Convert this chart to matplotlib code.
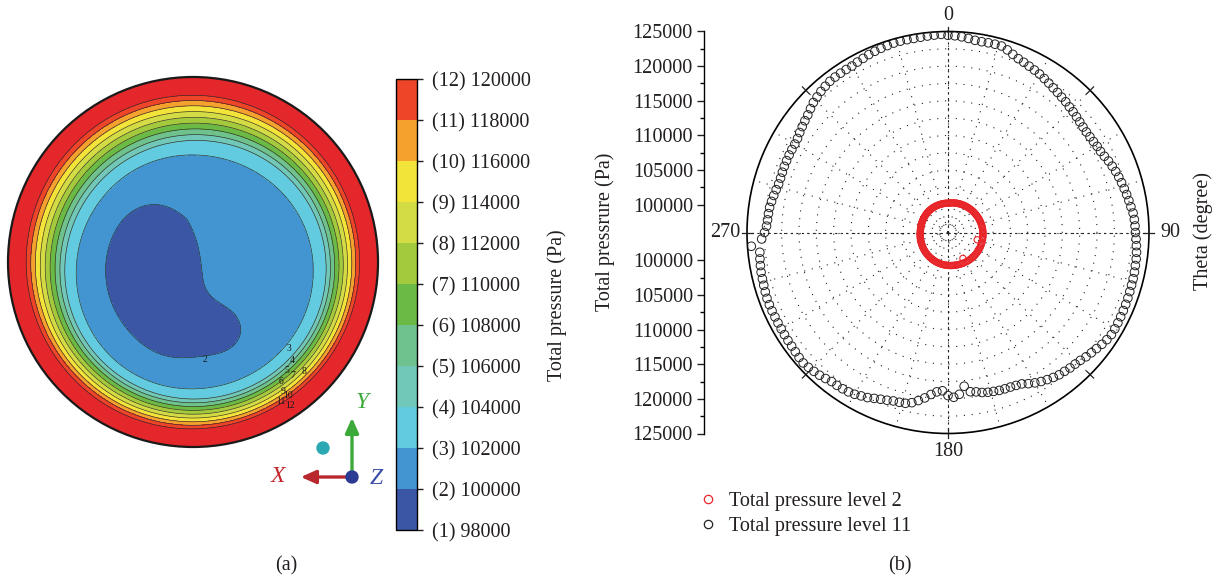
import numpy as np
import matplotlib
matplotlib.use("Agg")
import matplotlib.pyplot as plt
from matplotlib.colors import ListedColormap, BoundaryNorm
from matplotlib.cm import ScalarMappable
from matplotlib.lines import Line2D
import matplotlib.patches as mpatches

plt.rcParams['font.family'] = ['Liberation Serif', 'DejaVu Serif']
TXT = '#231F20'

# ---------------- contour map data (a) ----------------
levels = [98000, 100000, 102000, 104000, 106000, 108000, 110000,
          112000, 114000, 116000, 118000, 120000]
level_ids = list(range(1, 13))
band_colors = ['#3C56A6', '#4295D1', '#62CBDF', '#71C8B8', '#6FC28E', '#6CBA46',
               '#A3CA3C', '#D3DC44', '#F3E43A', '#F4A12E', '#EE4427']
rim_color = '#E4272A'

# radial pressure profile across the section (radius / R, Pa)
prof_r = [0.00, 0.30, 0.50, 0.630, 0.705, 0.730, 0.755, 0.780, 0.805,
          0.830, 0.855, 0.878, 0.900, 1.00, 1.05]
prof_p = [101000, 101050, 101350, 102000, 104000, 106000, 108000, 110000,
          112000, 114000, 116000, 118000, 120000, 124000, 125000]
core_shift = (0.025, -0.062)

# low-pressure cores
core_x = [-0.25, 0.16, -0.03]
core_y = [-0.04, -0.38, -0.38]
core_sx = [0.25, 0.10, 0.14]
core_sy = [0.37, 0.09, 0.12]
core_depth = [2000, 1400, 1200]

# contour index labels (pixel positions)
clabel_text = ['2', '3', '4', '5', '7', '8', '6', '9', '10', '11', '12']
clabel_px = [205, 289, 292, 287, 293, 304, 281, 283, 288, 281, 290]
clabel_py = [360, 349, 361, 371, 376, 372, 382, 391, 395, 402, 405]

# ---------------- polar data (b) ----------------
theta_deg = np.arange(0, 360, 2)
p_level11 = [
    124450, 124400, 124300, 124150, 124000, 123950, 123980, 124000, 123990, 123700,
    123350, 123050, 122880, 122700, 122550, 122400, 122200, 122000, 121800, 121650,
    121500, 121380, 121200, 121080, 120950, 120820, 120720, 120680, 120700, 120750,
    120850, 120920, 121100, 121350, 121550, 121750, 121900, 122050, 122200, 122350,
    122500, 122650, 122850, 122950, 123000, 123040, 123150, 123250, 123350, 123420,
    123450, 123500, 123530, 123550, 123580, 123620, 123660, 123690, 123720, 123760,
    123800, 123800, 123650, 123450, 123200, 123000, 122800, 122550, 122400, 122300,
    122150, 122050, 121850, 121600, 121350, 121050, 120700, 120300, 120150, 120050,
    120000, 119950, 119850, 119760, 119600, 119350, 119200, 118300, 119400, 119790,
    119530, 118850, 119050, 119500, 120100, 120620, 121100, 121400, 121480, 121550,
    121750, 121950, 122200, 122500, 122700, 122950, 123110, 123200, 123260, 123290,
    123500, 123700, 123850, 124000, 124120, 124050, 123950, 123880, 123850, 123820,
    123800, 123780, 123780, 123790, 123800, 123790, 123720, 123650, 123600, 123570,
    123480, 123400, 123300, 124450, 122900, 122470, 122200, 122100, 122050, 121990,
    121850, 121700, 121550, 121420, 121400, 121430, 121470, 121490, 121500, 121510,
    121520, 121600, 121800, 122000, 122200, 122400, 122700, 123000, 123200, 123400,
    123550, 123680, 123720, 123730, 123730, 123730, 123850, 123950, 124100, 124200,
    124280, 124350, 124430, 124450, 124440, 124430, 124450, 124500, 124550, 124600]
p_level2 = [
    100230, 100250, 100270, 100300, 100310, 100330, 100350, 100390, 100400, 100420,
    100430, 100460, 100470, 100500, 100510, 100530, 100560, 100570, 100590, 100610,
    100620, 100650, 100660, 100680, 100700, 100720, 100740, 100760, 100780, 100790,
    100810, 100830, 100860, 100870, 100890, 100900, 100920, 100940, 100950, 100970,
    100980, 100990, 101010, 101020, 101030, 101040, 101050, 101060, 101060, 101070,
    101070, 101080, 100340, 101090, 101090, 101090, 101100, 101100, 101100, 101090,
    101090, 101090, 101080, 101080, 101070, 101070, 101060, 101050, 101040, 101030,
    101030, 101010, 101000, 100990, 100980, 100300, 100950, 100940, 100920, 100900,
    100890, 100870, 100860, 100840, 100830, 100810, 100800, 100790, 100780, 100760,
    100750, 100740, 100720, 100710, 100690, 100680, 100660, 100640, 100620, 100610,
    100590, 100570, 100550, 100530, 100510, 100490, 100470, 100450, 100430, 100410,
    100390, 100370, 100350, 100330, 100310, 100300, 100280, 100260, 100240, 100220,
    100210, 100190, 100170, 100150, 100140, 100130, 100110, 100090, 100080, 100070,
    100060, 100050, 100040, 100020, 100010, 100000, 100000, 99990, 100000, 99990,
    99990, 100000, 100010, 100010, 100020, 100020, 100030, 100040, 100040, 100050,
    100060, 100070, 100080, 100090, 100100, 100110, 100120, 100130, 100140, 100150,
    100150, 100160, 100170, 100170, 100180, 100180, 100190, 100190, 100200, 100200,
    100200, 100210, 100210, 100210, 100220, 100220, 100220, 100230, 100230, 100230]
r_min, r_max = 96000, 125000
left_ticks = [100000, 105000, 110000, 115000, 120000, 125000]
left_minor = [102500, 107500, 112500, 117500, 122500]
theta_labels = ['0', '90', '180', '270']
legend_labels = ['Total pressure level 2', 'Total pressure level 11']

W, H = 1218, 582
fig = plt.figure(figsize=(W / 100, H / 100), dpi=100)

# ================= (a) contour map =================
R_PX, CX, CY = 185.0, 193.0, 262.0
axL = fig.add_axes([0, 82 / H, 390 / W, 440 / H])
axL.set_xlim(-CX / R_PX, (390 - CX) / R_PX)
axL.set_ylim(-(500 - CY) / R_PX, (CY - 60) / R_PX)
axL.axis('off')

g = np.linspace(-1.01, 1.01, 801)
X, Y = np.meshgrid(g, g)
R0 = np.hypot(X, Y)
w = np.clip((0.9 - R0) / 0.3, 0, 1)
RR = np.hypot(X - core_shift[0] * w, Y - core_shift[1] * w)
P = np.interp(RR, prof_r, prof_p)
for cx, cy, sx, sy, d in zip(core_x, core_y, core_sx, core_sy, core_depth):
    P = P - d * np.exp(-0.5 * (((X - cx) / sx) ** 2 + ((Y - cy) / sy) ** 2))
P = np.ma.masked_where(R0 > 1.0, P)

cmap = ListedColormap(band_colors)
cmap.set_over(rim_color)
norm = BoundaryNorm(levels, cmap.N)
axL.contourf(X, Y, P, levels=levels, cmap=cmap, norm=norm, extend='max')
axL.contour(X, Y, P, levels=levels[1:], colors='#2a2a2a', linewidths=0.45)
axL.add_patch(mpatches.Circle((0, 0), 1.0, fill=False, lw=1.6, ec='#1a1a1a', zorder=5))

for t, px, py in zip(clabel_text, clabel_px, clabel_py):
    axL.text((px - CX) / R_PX, (CY - py) / R_PX, t, fontsize=7, color='#1a1a1a',
             ha='center', va='center', zorder=6)


def pc(px, py):
    return (px - CX) / R_PX, (CY - py) / R_PX


# coordinate triad
ox, oy = pc(352, 477)
yx, yy = pc(352, 415)
xx, xy = pc(298, 477)
axL.annotate('', xy=(ox, yy), xytext=(ox, oy),
             arrowprops=dict(arrowstyle='-|>,head_length=0.9,head_width=0.4',
                             color='#3BAA3A', lw=2.4))
axL.annotate('', xy=(xx, oy), xytext=(ox, oy),
             arrowprops=dict(arrowstyle='-|>,head_length=0.9,head_width=0.4',
                             color='#B8282D', lw=2.4))
axL.add_patch(mpatches.Circle((ox, oy), 6 / R_PX, color='#2B3A92', zorder=7))
axL.add_patch(mpatches.Circle(pc(323, 448), 6 / R_PX, color='#2BA9B3', zorder=7))
axL.text(*pc(362, 403), 'Y', color='#3BAA3A', fontsize=17, style='italic', ha='center', va='center')
axL.text(*pc(278, 477), 'X', color='#C3262D', fontsize=17, style='italic', ha='center', va='center')
axL.text(*pc(376, 479), 'Z', color='#3A4DA8', fontsize=17, style='italic', ha='center', va='center')

# colorbar
cax = fig.add_axes([396 / W, (H - 530) / H, 21 / W, 451 / H])
cb = fig.colorbar(ScalarMappable(norm=BoundaryNorm(levels, len(band_colors)),
                                 cmap=ListedColormap(band_colors)),
                  cax=cax, ticks=levels)
cb.ax.set_yticklabels([f'({i}) {v}' for i, v in zip(level_ids, levels)])
cb.ax.tick_params(direction='out', length=4.5, width=1.0, labelsize=14.5, pad=6,
                  colors=TXT)
cb.ax.minorticks_off()
cb.outline.set_linewidth(1.0)
fig.text(557 / W, 1 - 305 / H, 'Total pressure (Pa)', rotation=90, fontsize=14.5,
         ha='center', va='center', color=TXT)
fig.text(286 / W, 1 - 566 / H, '(a)', fontsize=14.5, ha='center', va='center', color=TXT)

# ================= (b) polar plot =================
PCX, PCY, PR = 948.0, 232.5, 201.0
rect = [(PCX - PR) / W, (H - PCY - PR) / H, 2 * PR / W, 2 * PR / H]
axP = fig.add_axes(rect, projection='polar')
axP.set_theta_zero_location('N')
axP.set_theta_direction(-1)
axP.set_ylim(r_min, r_max)
axP.set_xticks(np.deg2rad(np.arange(0, 360, 15)))
axP.set_xticklabels([])
axP.set_yticks(np.arange(97500, 125000, 2500))
axP.set_yticklabels([])
axP.grid(True, color='#222222', lw=0.8, ls=(0, (1, 6)))
axP.tick_params(length=0)
axP.spines['polar'].set_linewidth(1.2)
for a in (0, 90, 180, 270):
    axP.plot([np.deg2rad(a)] * 2, [r_min, r_max], color='#222222', lw=0.8,
             ls=(0, (2, 3)), zorder=1)
for a in range(0, 360, 45):
    axP.plot([np.deg2rad(a)] * 2, [124300, 125700], color='#222222', lw=0.9,
             clip_on=False, zorder=4)

axP.scatter(np.deg2rad(theta_deg), p_level11, s=38, facecolors='none',
            edgecolors='#222222', linewidths=0.7, zorder=3)
axP.scatter(np.deg2rad(theta_deg), p_level2, s=20, facecolors='none',
            edgecolors='#E8262A', linewidths=0.8, zorder=3)

pa_per_px = (r_max - r_min) / PR
for lab, a, dpx in zip(theta_labels, (0, 90, 180, 270), (217, 222, 219, 223)):
    axP.text(np.deg2rad(a), r_min + dpx * pa_per_px, lab, fontsize=14.5,
             ha='center', va='center', color=TXT, clip_on=False)

# pressure scale along the left side
axS = fig.add_axes([704 / W, rect[1], 1 / W, rect[3]])
span = r_max - r_min
axS.set_ylim(-span, span)
axS.set_xlim(0, 1)
for s in ('top', 'right', 'bottom'):
    axS.spines[s].set_visible(False)
axS.spines['left'].set_linewidth(1.0)
axS.set_xticks([])
maj = [p - r_min for p in left_ticks]
axS.set_yticks([-v for v in maj[::-1]] + maj)
axS.set_yticklabels([str(p) for p in left_ticks[::-1]] + [str(p) for p in left_ticks])
mnr = [p - r_min for p in left_minor]
axS.set_yticks([-v for v in mnr] + mnr, minor=True)
axS.tick_params(axis='y', which='major', direction='out', length=5, width=1.0,
                labelsize=14.5, pad=3, colors=TXT)
axS.tick_params(axis='y', which='minor', direction='out', length=3, width=1.0)
fig.text(605 / W, 1 - 232 / H, 'Total pressrure (Pa)', rotation=90, fontsize=14.5,
         ha='center', va='center', color=TXT)
fig.text(1203 / W, 1 - 231 / H, 'Theta (degree)', rotation=90, fontsize=14.5,
         ha='center', va='center', color=TXT)

handles = [Line2D([], [], marker='o', ls='none', mfc='none', mec='#E8262A', ms=6, mew=0.9),
           Line2D([], [], marker='o', ls='none', mfc='none', mec='#222222', ms=6, mew=0.9)]
fig.legend(handles, legend_labels, loc='upper left',
           bbox_to_anchor=(698 / W, 1 - 492 / H), frameon=False, fontsize=14.5,
           handlelength=1.0, handletextpad=0.55, labelspacing=0.3,
           borderaxespad=0, borderpad=0, labelcolor=TXT)
fig.text(900 / W, 1 - 566 / H, '(b)', fontsize=14.5, ha='center', va='center', color=TXT)

fig.savefig('out.png', dpi=100)
